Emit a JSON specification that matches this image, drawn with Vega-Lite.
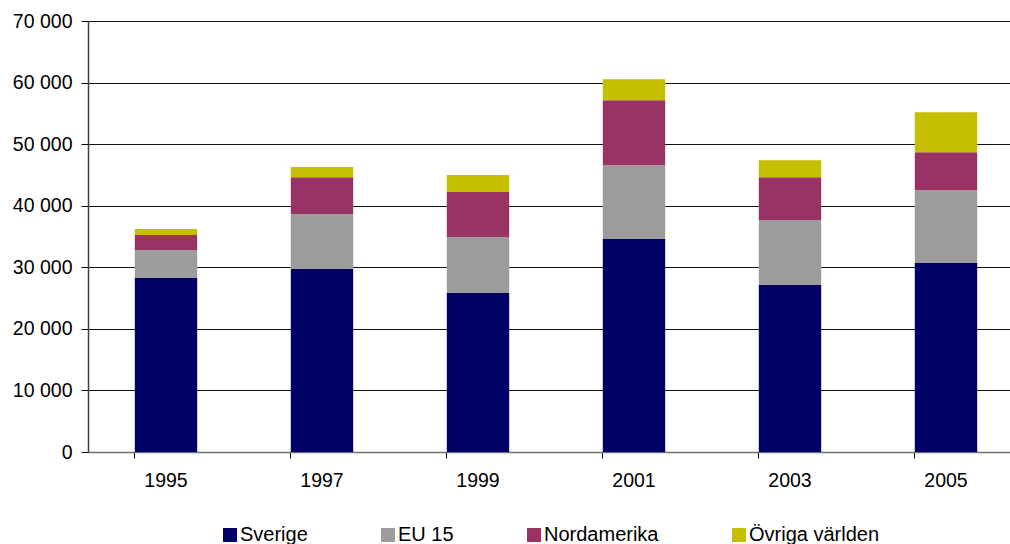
{
  "$schema": "https://vega.github.io/schema/vega-lite/v6.json",
  "width": 922,
  "height": 431,
  "autosize": {"type": "none"},
  "padding": {"left": 88, "top": 21, "right": 0, "bottom": 92},
  "background": "white",
  "config": {
    "locale": {"number": {"decimal": ",", "thousands": " ", "grouping": [3], "currency": ["", " kr"]}},
    "font": "Liberation Sans",
    "view": {"stroke": null},
    "axis": {"labelFont": "Liberation Sans", "labelFontSize": 19.5, "labelColor": "#000", "title": null}
  },
  "data": {
    "values": [
      {"year": "1995", "region": "Sverige", "k": 1, "value": 28250},
      {"year": "1995", "region": "EU 15", "k": 2, "value": 4540},
      {"year": "1995", "region": "Nordamerika", "k": 3, "value": 2440},
      {"year": "1995", "region": "Övriga världen", "k": 4, "value": 970},
      {"year": "1997", "region": "Sverige", "k": 1, "value": 29710},
      {"year": "1997", "region": "EU 15", "k": 2, "value": 8930},
      {"year": "1997", "region": "Nordamerika", "k": 3, "value": 6000},
      {"year": "1997", "region": "Övriga världen", "k": 4, "value": 1630},
      {"year": "1999", "region": "Sverige", "k": 1, "value": 25810},
      {"year": "1999", "region": "EU 15", "k": 2, "value": 9090},
      {"year": "1999", "region": "Nordamerika", "k": 3, "value": 7310},
      {"year": "1999", "region": "Övriga världen", "k": 4, "value": 2760},
      {"year": "2001", "region": "Sverige", "k": 1, "value": 34580},
      {"year": "2001", "region": "EU 15", "k": 2, "value": 12010},
      {"year": "2001", "region": "Nordamerika", "k": 3, "value": 10550},
      {"year": "2001", "region": "Övriga världen", "k": 4, "value": 3410},
      {"year": "2003", "region": "Sverige", "k": 1, "value": 27110},
      {"year": "2003", "region": "EU 15", "k": 2, "value": 10550},
      {"year": "2003", "region": "Nordamerika", "k": 3, "value": 6980},
      {"year": "2003", "region": "Övriga världen", "k": 4, "value": 2760},
      {"year": "2005", "region": "Sverige", "k": 1, "value": 30680},
      {"year": "2005", "region": "EU 15", "k": 2, "value": 11850},
      {"year": "2005", "region": "Nordamerika", "k": 3, "value": 6170},
      {"year": "2005", "region": "Övriga världen", "k": 4, "value": 6490}
    ]
  },
  "mark": {"type": "bar"},
  "encoding": {
    "x": {
      "field": "year",
      "type": "nominal",
      "scale": {"range": [0, 936], "paddingInner": 0.6, "paddingOuter": 0.3},
      "axis": {
        "labelAngle": 0,
        "bandPosition": 0,
        "tickSize": 6,
        "tickColor": "#000",
        "domainColor": "#707070",
        "domainWidth": 1.5,
        "labelPadding": 13,
        "grid": false
      }
    },
    "y": {
      "field": "value",
      "type": "quantitative",
      "aggregate": "sum",
      "stack": "zero",
      "scale": {"domain": [0, 70000], "nice": false},
      "axis": {
        "values": [0, 10000, 20000, 30000, 40000, 50000, 60000, 70000],
        "format": ",d",
        "tickSize": 7,
        "tickColor": "#000",
        "domainColor": "#404040",
        "domainWidth": 1.5,
        "labelPadding": 9,
        "grid": true,
        "gridColor": "#111",
        "gridWidth": 1.2
      }
    },
    "color": {
      "field": "region",
      "type": "nominal",
      "sort": ["Sverige", "EU 15", "Nordamerika", "Övriga världen"],
      "scale": {
        "domain": ["Sverige", "EU 15", "Nordamerika", "Övriga världen"],
        "range": ["#000066", "#9c9c9c", "#993366", "#c4c000"]
      },
      "legend": {
        "title": null,
        "orient": "none",
        "direction": "horizontal",
        "legendX": 132,
        "legendY": 504,
        "padding": 0,
        "symbolType": "square",
        "symbolSize": 196,
        "symbolStrokeWidth": 0,
        "symbolOpacity": 1,
        "labelFont": "Liberation Sans",
        "labelFontSize": 20,
        "labelColor": "#000",
        "labelOffset": 0,
        "columnPadding": 70
      }
    },
    "order": {"field": "k", "type": "quantitative", "sort": "ascending"}
  }
}
